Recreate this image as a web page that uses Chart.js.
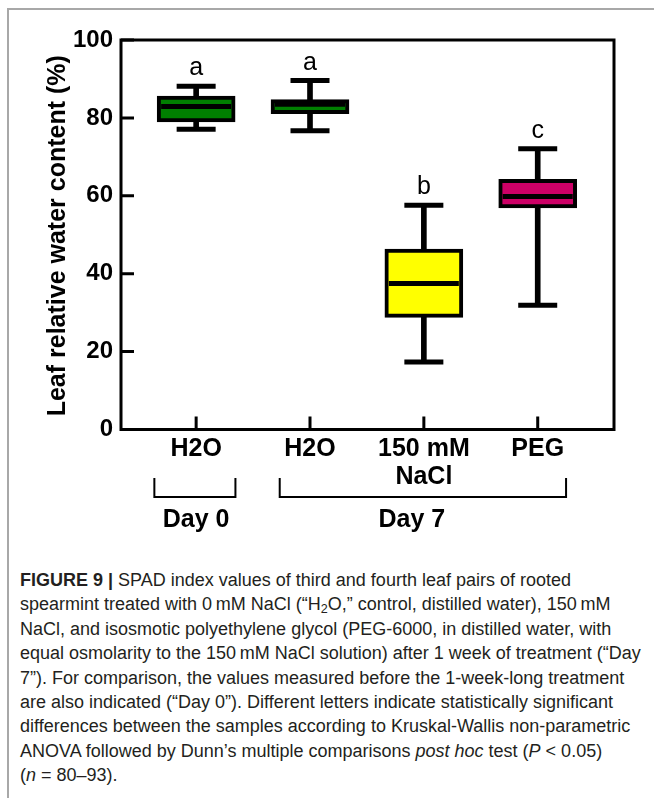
<!DOCTYPE html>
<html>
<head>
<meta charset="utf-8">
<script src="https://cdn.jsdelivr.net/npm/chart.js@4.4.1/dist/chart.umd.min.js"></script>
<style>
  html, body { margin: 0; padding: 0; background: #fff; }
  body { width: 654px; height: 798px; position: relative; overflow: hidden; }
  #frame { position: absolute; left: 7px; top: 8px; width: 660px; height: 800px;
           border-left: 2px solid #a8a8a8; border-top: 2px solid #a8a8a8; }
  #chart { position: absolute; left: 0; top: 0; }
  #caption { position: absolute; left: 20px; top: 568px; white-space: nowrap;
             font-family: "Liberation Sans", Arial, sans-serif; font-size: 18px;
             line-height: 24.4px; color: #231f20; }
  #caption sub { font-size: 0.7em; line-height: 0; vertical-align: -0.25em; }
</style>
</head>
<body>
<div id="frame"></div>
<canvas id="chart" width="654" height="545"></canvas>
<div id="caption"><b>FIGURE 9 |</b> SPAD index values of third and fourth leaf pairs of rooted<br>spearmint treated with 0&#8201;mM NaCl (“H<sub>2</sub>O,” control, distilled water), 150&#8201;mM<br>NaCl, and isosmotic polyethylene glycol (PEG-6000, in distilled water, with<br>equal osmolarity to the 150&#8201;mM NaCl solution) after 1 week of treatment (“Day<br>7”). For comparison, the values measured before the 1-week-long treatment<br>are also indicated (“Day 0”). Different letters indicate statistically significant<br>differences between the samples according to Kruskal-Wallis non-parametric<br>ANOVA followed by Dunn’s multiple comparisons <i>post hoc</i> test (<i>P</i> &lt; 0.05)<br>(<i>n</i> = 80–93).</div>
<script>
/* Leaf relative water content box plots — Day 0 vs Day 7 treatments. */

/* ── Data ─────────────────────────────────────────────────── */
const groups      = ['H2O', 'H2O', '150 mM\nNaCl', 'PEG'];
const whiskerLow  = [77.1, 76.7, 17.3, 31.9];
const q1          = [79.0, 81.1, 28.8, 56.9];
const median      = [82.9, 83.5, 37.5, 59.8];
const q3          = [85.6, 84.7, 46.3, 64.2];
const whiskerHigh = [88.1, 89.6, 57.6, 72.1];
const letters     = ['a', 'a', 'b', 'c'];
const yTicks      = [0, 20, 40, 60, 80, 100];
const days        = ['Day 0', 'Day 7'];

/* ── Styles ───────────────────────────────────────────────── */
const FONT   = '"Liberation Sans", Arial, sans-serif';
const BLACK  = '#000';
const FILLS  = ['#008000', '#008000', '#ffff00', '#cc0066'];

Chart.defaults.font.family = FONT;
Chart.defaults.color = BLACK;

const idx = groups.map((_, i) => i);

/* frame, inward ticks, letters, y title and day brackets */
const decor = {
  id: 'decor',
  afterDraw(chart) {
    const { ctx, chartArea: a, scales: { x, y } } = chart;
    ctx.save();
    ctx.strokeStyle = BLACK;
    ctx.lineWidth = 3;
    ctx.strokeRect(a.left, a.top, a.right - a.left, a.bottom - a.top);

    ctx.beginPath();
    yTicks.forEach(v => {
      const py = y.getPixelForValue(v);
      ctx.moveTo(a.left, py); ctx.lineTo(a.left + 13, py);
    });
    idx.forEach(i => {
      const px = x.getPixelForValue(i);
      ctx.moveTo(px, a.bottom); ctx.lineTo(px, a.bottom - 13);
    });
    ctx.stroke();

    // significance letters
    ctx.fillStyle = BLACK;
    ctx.font = '25px ' + FONT;
    ctx.textAlign = 'center';
    ctx.textBaseline = 'alphabetic';
    letters.forEach((t, i) => {
      ctx.fillText(t, x.getPixelForValue(i), y.getPixelForValue(whiskerHigh[i]) - 11);
    });

    // y axis title
    ctx.save();
    ctx.translate(65, (a.top + a.bottom) / 2 + 1);
    ctx.rotate(-Math.PI / 2);
    ctx.font = 'bold 25px ' + FONT;
    ctx.fillText('Leaf relative water content (%)', 0, 0);
    ctx.restore();

    // Day brackets
    const spans = [[-0.367, 0.345], [0.734, 3.249]];
    const centers = [0, 1.894];
    ctx.lineWidth = 2;
    ctx.beginPath();
    spans.forEach(([s, e]) => {
      const x0 = x.getPixelForValue(s), x1 = x.getPixelForValue(e);
      ctx.moveTo(x0, 478); ctx.lineTo(x0, 497); ctx.lineTo(x1, 497); ctx.lineTo(x1, 478);
    });
    ctx.stroke();
    ctx.font = 'bold 25px ' + FONT;
    days.forEach((d, i) => ctx.fillText(d, x.getPixelForValue(centers[i]), 527));
    ctx.restore();
  }
};

new Chart(document.getElementById('chart'), {
  type: 'bar',
  data: {
    datasets: [
      { // whisker stems
        data: idx.map(i => ({ x: i, y: [whiskerLow[i], whiskerHigh[i]] })),
        backgroundColor: BLACK, barThickness: 5, grouped: false, order: 3,
      },
      { // interquartile boxes
        data: idx.map(i => ({ x: i, y: [q1[i], q3[i]] })),
        backgroundColor: FILLS, borderColor: BLACK, borderWidth: 4,
        borderSkipped: false, barThickness: 78, grouped: false, order: 2,
      },
      { // caps
        type: 'scatter',
        data: idx.flatMap(i => [{ x: i, y: whiskerLow[i] }, { x: i, y: whiskerHigh[i] }]),
        pointStyle: 'line', pointRadius: 19.5, pointBorderWidth: 5,
        borderColor: BLACK, order: 1,
      },
      { // medians
        type: 'scatter',
        data: idx.map(i => ({ x: i, y: median[i] })),
        pointStyle: 'line', pointRadius: 35, pointBorderWidth: 5,
        borderColor: BLACK, order: 0,
      },
    ],
  },
  options: {
    responsive: false,
    animation: false,
    events: [],
    layout: { padding: { left: 0, top: 35, right: 22, bottom: 0 } },
    plugins: { legend: { display: false }, tooltip: { enabled: false } },
    scales: {
      x: {
        type: 'linear', min: -0.66, max: 3.67, offset: false,
        grid: { display: false, drawTicks: false }, border: { display: false },
        afterBuildTicks: s => { s.ticks = idx.map(v => ({ value: v })); },
        afterFit: s => { s.height = 115.5; },
        ticks: {
          padding: 6, color: BLACK, maxRotation: 0, autoSkip: false,
          font: { size: 25, weight: 'bold', lineHeight: 1.1 },
          callback: v => groups[v].split('\n'),
        },
      },
      y: {
        min: 0, max: 100,
        grid: { display: false, drawTicks: false }, border: { display: false },
        afterBuildTicks: s => { s.ticks = yTicks.map(v => ({ value: v })); },
        afterFit: s => { s.width = 121; },
        ticks: { padding: 8, color: BLACK, font: { size: 24, weight: 'bold' } },
      },
    },
  },
  plugins: [decor],
});
</script>
</body>
</html>
